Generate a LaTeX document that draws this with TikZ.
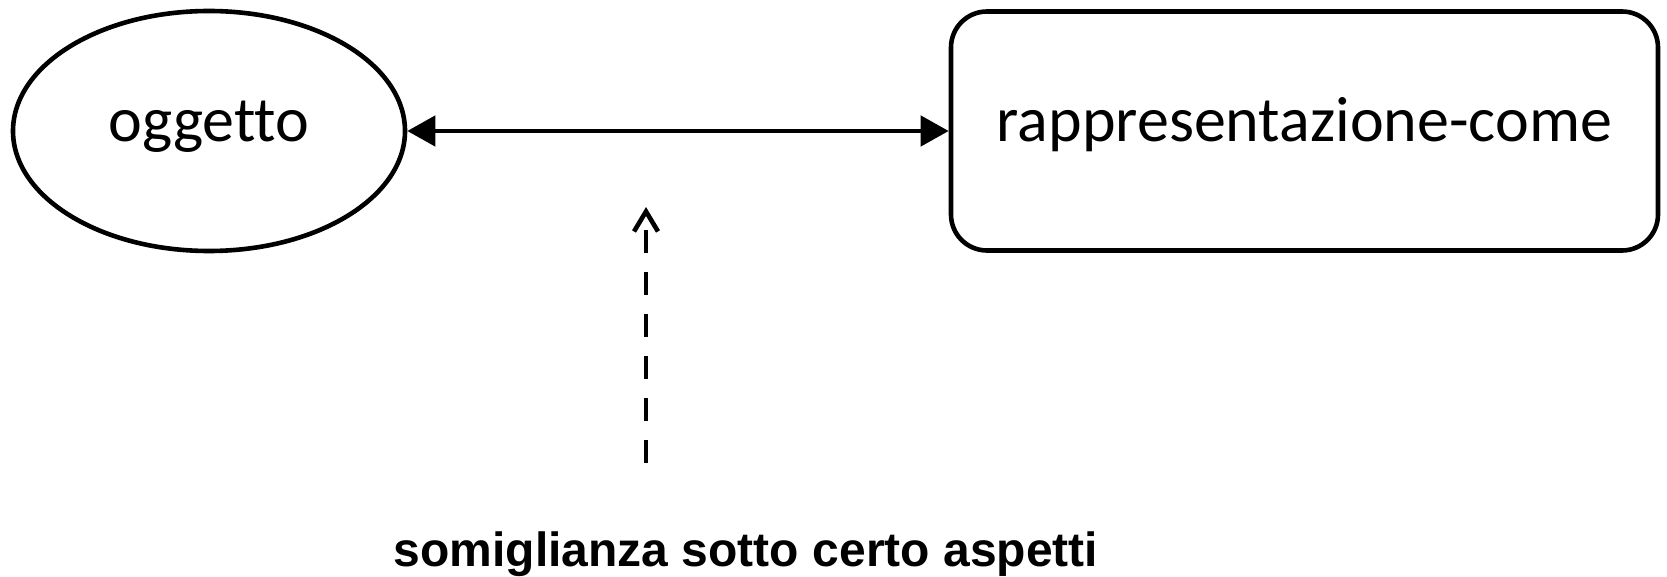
\documentclass[tikz,border=0pt]{standalone}
\usepackage{fontspec}
\setmainfont{Carlito}[Ligatures=CommonOff]
\newfontfamily\notefont{Liberation Sans}
\usetikzlibrary{arrows.meta}
\usetikzlibrary{shapes.geometric}
% geometry, in pixels of the 1667x577 frame
\newcommand{\rowy}{131}
\newcommand{\ogcx}{209}
\newcommand{\rpcx}{1304.5}
\newcommand{\simx}{646}
\newcommand{\simya}{463}
\newcommand{\simyb}{207}

\begin{document}
\begin{tikzpicture}[x=0.5pt,y=-0.5pt,line width=2.3pt,
    objnode/.style={ellipse,draw,inner sep=0pt,
      minimum width=196pt,minimum height=120pt,
      text height=18pt,text depth=7pt,
      font=\fontsize{32}{38}\selectfont},
    repnode/.style={rectangle,draw,rounded corners=18pt,inner sep=0pt,
      minimum width=353.5pt,minimum height=119.5pt,
      text height=18pt,text depth=7pt,
      font=\fontsize{32}{38}\selectfont},
    linkarrow/.style={{Triangle[length=14pt,width=15pt]}-{Triangle[length=14pt,width=15pt]}},
    simarrow/.style={-{Straight Barb[length=10pt,width=12pt]},
      dash pattern=on 11.5pt off 9.5pt},
    notelbl/.style={anchor=base,inner sep=0pt,
      font=\notefont\bfseries\fontsize{24}{29}\selectfont}]
  \useasboundingbox (0,0) rectangle (1667,577);

  \node[objnode] (oggetto) at (\ogcx,\rowy) {oggetto};
  \node[repnode] (rappr) at (\rpcx,\rowy) {rappresentazione-come};

  \draw[linkarrow] (oggetto) -- (rappr);

  \coordinate (simfoot) at (\simx,\simya);
  \coordinate (simtip) at (\simx,\simyb);
  \draw[simarrow] (simfoot) -- (simtip);

  \node[notelbl] (somiglianza) at (746,567) {somiglianza sotto certo aspetti};
\end{tikzpicture}
\end{document}
